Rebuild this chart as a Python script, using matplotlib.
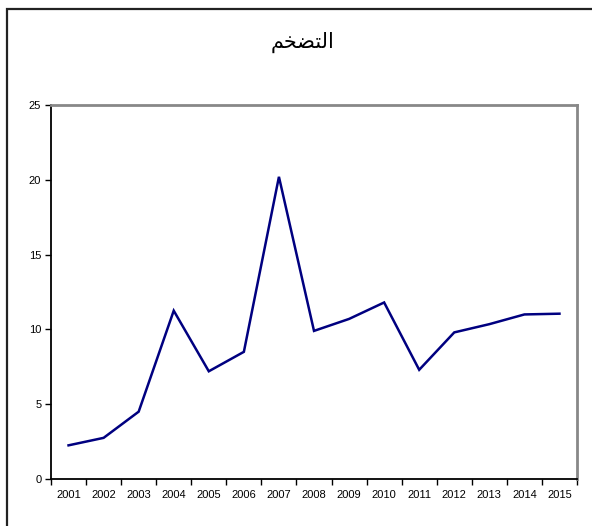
import matplotlib
matplotlib.use('Agg')
import matplotlib.pyplot as plt
from matplotlib.patches import Rectangle
from matplotlib.ticker import FixedLocator

years = ['2001', '2002', '2003', '2004', '2005', '2006', '2007', '2008',
         '2009', '2010', '2011', '2012', '2013', '2014', '2015']
inflation = [2.25, 2.75, 4.5, 11.25, 7.2, 8.5, 20.2, 9.9,
             10.7, 11.8, 7.3, 9.8, 10.35, 11.0, 11.05]
y_ticks = [0, 5, 10, 15, 20, 25]

# "التضخم" in shaped presentation forms, visual order (matplotlib does no RTL shaping)
title = '\ufee2\ufea8\ufec0\ufe98\ufedf\ufe8d'

plt.rcParams['font.family'] = ['Liberation Sans', 'DejaVu Sans']

fig = plt.figure(figsize=(5.92, 5.26), dpi=100)
fig.patches.append(Rectangle((7 / 592, -0.1), 1.2, 1 - 8.5 / 526 + 0.1,
                             transform=fig.transFigure, fill=False,
                             edgecolor='#222222', lw=1.6))

ax = fig.add_axes([51 / 592, 47 / 526, 526 / 592, 374 / 526])
x = list(range(len(years)))
ax.plot(x, inflation, color='#000080', lw=1.8, solid_joinstyle='miter')

ax.set_xlim(-0.5, len(years) - 0.5)
ax.set_ylim(0, 25)
ax.set_yticks(y_ticks)
ax.set_yticklabels([str(t) for t in y_ticks], fontsize=8)

ax.xaxis.set_major_locator(FixedLocator([i - 0.5 for i in range(len(years) + 1)]))
ax.xaxis.set_major_formatter(plt.NullFormatter())
ax.xaxis.set_minor_locator(FixedLocator(x))
ax.set_xticklabels(years, minor=True, fontsize=8)
ax.tick_params(axis='x', which='minor', length=0, pad=8)
ax.tick_params(axis='both', which='major', length=4, width=1, color='black', pad=3)

for s in ['left', 'bottom']:
    ax.spines[s].set_color('black')
    ax.spines[s].set_linewidth(1.3)
for s in ['top', 'right']:
    ax.spines[s].set_color('#888888')
    ax.spines[s].set_linewidth(2)

fig.text(303 / 592, 1 - 42 / 526, title, family=['DejaVu Sans'], fontsize=15,
         ha='center', va='center')

fig.savefig('out.png', dpi=100)
